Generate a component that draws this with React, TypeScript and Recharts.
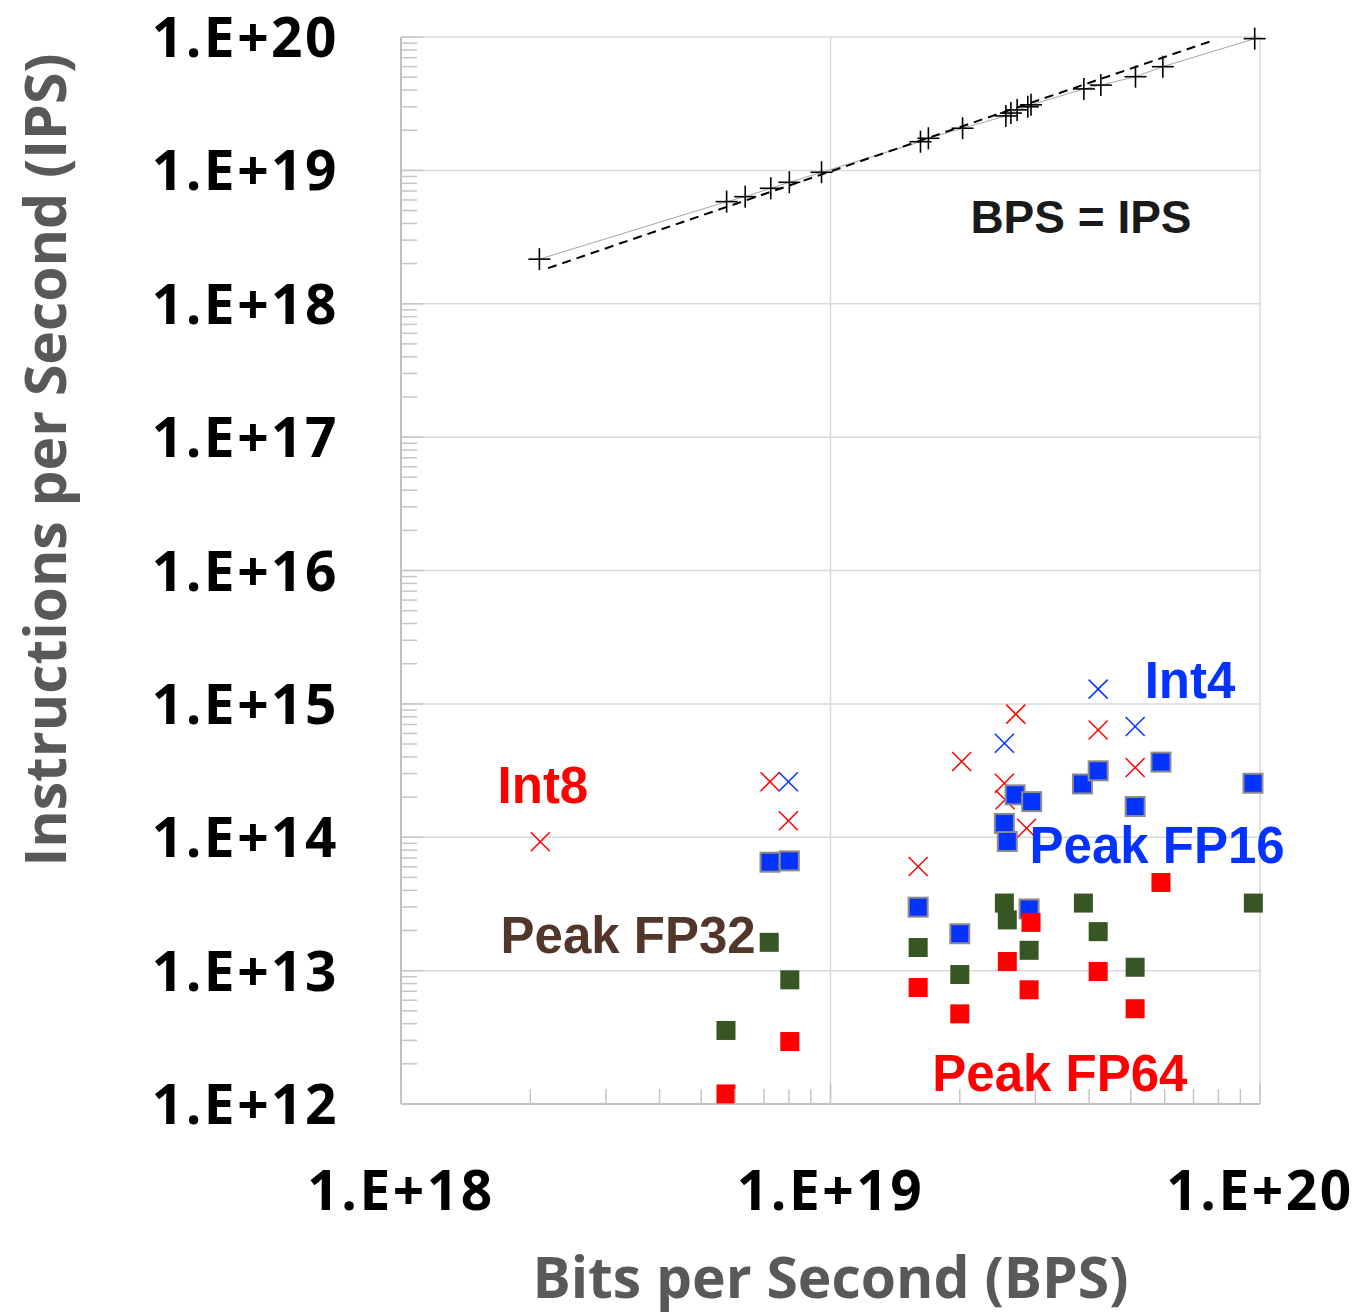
import React from 'react';
import { ScatterChart, Scatter, XAxis, YAxis, ReferenceLine, ReferenceDot } from 'recharts';

// [bits per second, instructions per second]
const bpsEqualsIps: [number, number][] = [
  [2.1e18, 2.16e18], [5.73e18, 5.83e18], [6.33e18, 6.35e18], [7.26e18, 7.34e18],
  [8.02e18, 8.14e18], [9.53e18, 9.68e18], [1.62e19, 1.64e19], [1.69e19, 1.74e19],
  [2.03e19, 2.07e19], [2.56e19, 2.56e19], [2.63e19, 2.69e19], [2.72e19, 2.84e19],
  [2.88e19, 3.0e19], [2.93e19, 3.1e19], [3.89e19, 4.08e19], [4.26e19, 4.36e19],
  [5.13e19, 5.04e19], [5.94e19, 5.99e19], [9.72e19, 9.72e19],
];
const bpsFit: [number, number][] = [[2.2e18, 1.85e18], [7.83e19, 9.5e19]];

const int8: [number, number][] = [
  [2.11e18, 9.24e13], [7.23e18, 2.61e14], [7.98e18, 1.33e14], [1.6e19, 6.03e13],
  [2.02e19, 3.7e14], [2.54e19, 2.54e14], [2.55e19, 1.91e14], [2.7e19, 8.38e14],
  [2.86e19, 1.17e14], [4.2e19, 6.38e14], [5.12e19, 3.33e14],
];
const int4: [number, number][] = [
  [7.98e18, 2.61e14], [2.54e19, 5.07e14], [4.2e19, 1.29e15], [5.12e19, 6.76e14],
];
const peakFp16: [number, number][] = [
  [7.23e18, 6.5e13], [8.02e18, 6.65e13], [1.6e19, 2.99e13], [2.0e19, 1.89e13],
  [2.54e19, 1.27e14], [2.58e19, 9.29e13], [2.69e19, 2.08e14], [2.9e19, 2.9e13],
  [2.94e19, 1.85e14], [3.86e19, 2.51e14], [4.2e19, 3.15e14], [5.12e19, 1.7e14],
  [5.88e19, 3.66e14], [9.63e19, 2.54e14],
];
const peakFp32: [number, number][] = [
  [5.71e18, 3.56e12], [7.2e18, 1.63e13], [8.04e18, 8.53e12], [1.6e19, 1.49e13],
  [2.0e19, 9.35e12], [2.54e19, 3.21e13], [2.58e19, 2.4e13], [2.9e19, 1.42e13],
  [3.88e19, 3.21e13], [4.2e19, 1.96e13], [5.12e19, 1.06e13], [9.65e19, 3.21e13],
];
const peakFp64: [number, number][] = [
  [5.71e18, 1.19e12], [8.04e18, 2.94e12], [1.6e19, 7.47e12], [2.0e19, 4.74e12],
  [2.58e19, 1.17e13], [2.93e19, 2.3e13], [2.9e19, 7.18e12], [4.2e19, 9.85e12],
  [5.12e19, 5.18e12], [5.88e19, 4.58e13],
];

const xMajorTicks = [1e18, 1e19, 1e20];
const yMajorTicks = [1e12, 1e13, 1e14, 1e15, 1e16, 1e17, 1e18, 1e19, 1e20];
const minorSteps = [2, 3, 4, 5, 6, 7, 8, 9];

const withMinors = (majors: number[]) => {
  const out: number[] = [];
  majors.forEach((m, i) => {
    out.push(m);
    if (i < majors.length - 1) minorSteps.forEach((s) => out.push(m * s));
  });
  return out;
};
const xTicks = withMinors(xMajorTicks);
const yTicks = withMinors(yMajorTicks);

const toRows = (pts: [number, number][]) => pts.map(([x, y]) => ({ x, y }));

const isMajor = (v: number) => Math.abs(Math.log10(v) - Math.round(Math.log10(v))) < 1e-6;
const sci = (v: number) => `1.E+${Math.round(Math.log10(v))}`;

const AXIS_FONT = '"Open Sans", "DejaVu Sans", sans-serif';
const NOTE_FONT = '"Liberation Sans", Arial, sans-serif';
const GRID = '#d9d9d9';
const TICK = '#c6c6c6';
const BLUE = '#0433ff';
const RED = '#ff0000';

const tickText = {
  fontFamily: AXIS_FONT,
  fontWeight: 700,
  fontSize: 55,
  letterSpacing: 2.5,
  fill: '#000',
};

const YTick = (props: any) => {
  const { x, y, payload } = props;
  const major = isMajor(payload.value);
  return (
    <g>
      <line x1={x} x2={x + (major ? 22 : 16)} y1={y} y2={y} stroke={TICK} strokeWidth={1.5} />
      {major && (
        <text x={x - 62} y={y} dy={20} textAnchor="end" {...tickText}>
          {sci(payload.value)}
        </text>
      )}
    </g>
  );
};

const XTick = (props: any) => {
  const { x, y, payload } = props;
  const major = isMajor(payload.value);
  return (
    <g>
      <line x1={x} x2={x} y1={y} y2={y - (major ? 20 : 15)} stroke={TICK} strokeWidth={1.5} />
      {major && (
        <text x={x} y={y} dy={106} textAnchor="middle" {...tickText}>
          {sci(payload.value)}
        </text>
      )}
    </g>
  );
};

const Plus = ({ cx, cy }: any) => (
  <g stroke="#000" strokeWidth={1.6}>
    <line x1={cx - 11} x2={cx + 11} y1={cy} y2={cy} />
    <line x1={cx} x2={cx} y1={cy - 11} y2={cy + 11} />
  </g>
);

const Cross = ({ cx, cy, color }: any) => (
  <g stroke={color} strokeWidth={1.5}>
    <line x1={cx - 9.5} x2={cx + 9.5} y1={cy - 9.5} y2={cy + 9.5} />
    <line x1={cx - 9.5} x2={cx + 9.5} y1={cy + 9.5} y2={cy - 9.5} />
  </g>
);

const Square = ({ cx, cy, color, edge }: any) => (
  <rect
    x={cx - 9.5}
    y={cy - 9.5}
    width={19}
    height={19}
    fill={color}
    stroke={edge || 'none'}
    strokeWidth={edge ? 2 : 0}
  />
);

const note = (text: string, color: string, size: number) => ({
  value: text,
  position: 'center' as const,
  fill: color,
  fontSize: size,
  fontWeight: 700,
  fontFamily: NOTE_FONT,
});

export default function App() {
  return (
    <div style={{ position: 'absolute', left: 0, top: 0, width: 1372, height: 1314, background: '#fff' }}>
      <ScatterChart width={1372} height={1314} margin={{ top: 37, right: 112, bottom: 0, left: 0 }}>
        <XAxis
          type="number"
          dataKey="x"
          scale="log"
          domain={[1e18, 1e20]}
          ticks={xTicks}
          interval={0}
          height={210}
          tickLine={false}
          tickSize={0}
          tickMargin={0}
          axisLine={{ stroke: '#bfbfbf', strokeWidth: 2 }}
          tick={<XTick />}
          label={{
            value: 'Bits per Second (BPS)',
            position: 'insideBottom',
            offset: 16,
            fill: '#595959',
            fontSize: 57,
            fontWeight: 700,
            fontFamily: AXIS_FONT,
          }}
        />
        <YAxis
          type="number"
          dataKey="y"
          scale="log"
          domain={[1e12, 1e20]}
          ticks={yTicks}
          interval={0}
          width={401}
          tickLine={false}
          tickSize={0}
          tickMargin={0}
          axisLine={{ stroke: '#bfbfbf', strokeWidth: 2 }}
          tick={<YTick />}
          label={{
            content: (p: any) => {
              const vb = p.viewBox || { x: 0, y: 37 };
              const tx = vb.x + 66;
              const ty = vb.y + 423;
              return (
                <text
                  x={tx}
                  y={ty}
                  transform={`rotate(-90 ${tx} ${ty})`}
                  textAnchor="middle"
                  fill="#595959"
                  fontSize={57}
                  fontWeight={700}
                  fontFamily={AXIS_FONT}
                >
                  Instructions per Second (IPS)
                </text>
              );
            },
          }}
        />

        {yMajorTicks.slice(1).map((v) => (
          <ReferenceLine key={`h${v}`} y={v} stroke={GRID} strokeWidth={1.5} />
        ))}
        {xMajorTicks.slice(1).map((v) => (
          <ReferenceLine key={`v${v}`} x={v} stroke={GRID} strokeWidth={1.5} />
        ))}

        <Scatter
          data={toRows(bpsEqualsIps)}
          line={{ stroke: '#a6a6a6', strokeWidth: 1 }}
          shape={(p: any) => <Plus {...p} />}
          isAnimationActive={false}
        />
        <Scatter
          data={toRows(bpsFit)}
          line={{ stroke: '#000', strokeWidth: 2, strokeDasharray: '9 6' }}
          shape={() => <g />}
          isAnimationActive={false}
        />
        <Scatter data={toRows(int8)} shape={(p: any) => <Cross {...p} color={RED} />} isAnimationActive={false} />
        <Scatter data={toRows(int4)} shape={(p: any) => <Cross {...p} color={BLUE} />} isAnimationActive={false} />
        <Scatter
          data={toRows(peakFp16)}
          shape={(p: any) => <Square {...p} color={BLUE} edge="#8c8c8c" />}
          isAnimationActive={false}
        />
        <Scatter data={toRows(peakFp32)} shape={(p: any) => <Square {...p} color="#375623" />} isAnimationActive={false} />
        <Scatter data={toRows(peakFp64)} shape={(p: any) => <Square {...p} color={RED} />} isAnimationActive={false} />

        <ReferenceDot x={3.83e19} y={4.48e18} r={0} stroke="none" fill="none" label={note('BPS = IPS', '#1a1a1a', 46)} />
        <ReferenceDot x={6.87e19} y={1.51e15} r={0} stroke="none" fill="none" label={note('Int4', BLUE, 51)} />
        <ReferenceDot x={2.14e18} y={2.47e14} r={0} stroke="none" fill="none" label={note('Int8', RED, 51)} />
        <ReferenceDot x={5.76e19} y={8.77e13} r={0} stroke="none" fill="none" label={note('Peak FP16', BLUE, 51)} />
        <ReferenceDot x={3.38e18} y={1.85e13} r={0} stroke="none" fill="none" label={note('Peak FP32', '#523629', 51)} />
        <ReferenceDot x={3.42e19} y={1.71e12} r={0} stroke="none" fill="none" label={note('Peak FP64', RED, 51)} />
      </ScatterChart>
    </div>
  );
}
